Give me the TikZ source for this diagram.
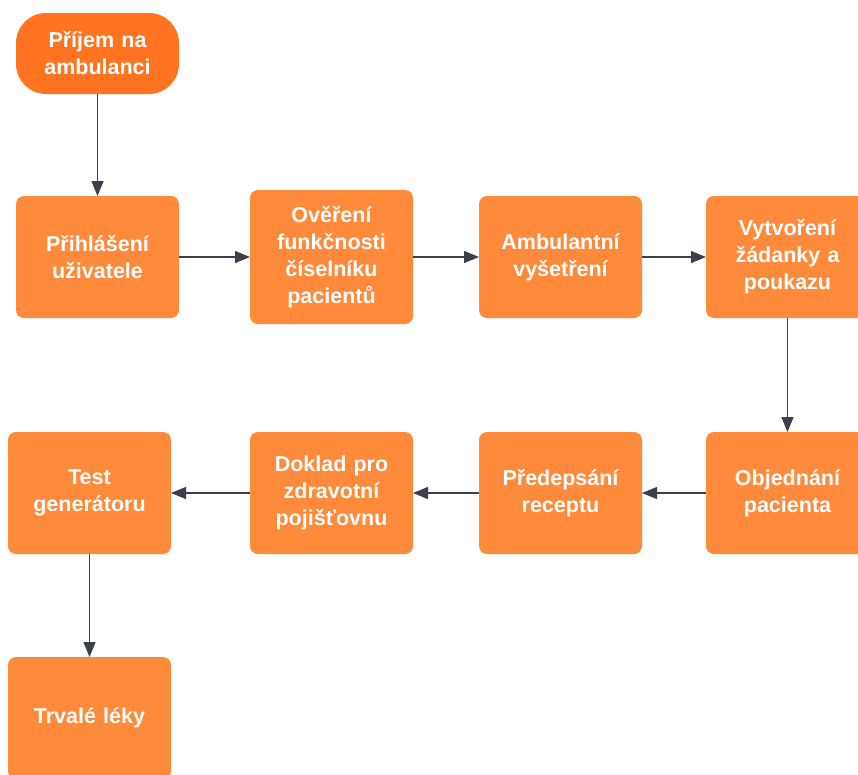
\documentclass[tikz,border=0pt]{standalone}
\usepackage{fontspec}
\setmainfont{Liberation Sans}
\usetikzlibrary{positioning}
\usetikzlibrary{arrows.meta}

\definecolor{oranzova}{HTML}{FF8A3B}
\definecolor{tmavaoranzova}{HTML}{FF7321}
\definecolor{cara}{HTML}{3A414A}

\begin{document}
\begin{tikzpicture}[x=1pt, y=1pt,
	every node/.style={inner sep=4, outer sep=0, font=\fontsize{21.5}{27}\selectfont\bfseries, text=white, align=center},
	krok/.style={fill=oranzova, rounded corners=8, minimum width=163, minimum height=122, text width=150},
	zacatek/.style={fill=tmavaoranzova, rounded corners=30, minimum width=163, minimum height=81, text width=150},
	sipka/.style={draw=cara, line width=1.2, -{Triangle[length=15, width=12]}}]
		
		\useasboundingbox (0,0) rectangle (858,-774);
		
		%Nodes
		\node[zacatek] (11) at (97.5,-53.5) {Příjem na\\ambulanci};
		\node[krok] (21) [below=102 of 11] {Přihlášení\\uživatele};
		\node[krok, minimum height=134] (22) [right=71 of 21] {Ověření\\funkčnosti\\číselníku\\pacientů};
		\node[krok] (23) [right=66 of 22] {Ambulantní\\vyšetření};
		\node[krok] (24) [right=64 of 23] {Vytvoření\\žádanky a\\poukazu};
		\node[krok] (34) [below=114 of 24] {Objednání\\pacienta};
		\node[krok] (33) [left=64 of 34] {Předepsání\\receptu};
		\node[krok] (32) [left=66 of 33] {Doklad pro\\zdravotní\\pojišťovnu};
		\node[krok] (31) [left=79 of 32] {Test\\generátoru};
		\node[krok] (41) [below=103 of 31] {Trvalé léky};
		
		%Lines
		\draw[sipka] (11) -- (21);
		\draw[sipka] (21) -- (22);
		\draw[sipka] (22) -- (23);
		\draw[sipka] (23) -- (24);
		\draw[sipka] (24) -- (34);
		\draw[sipka] (34) -- (33);
		\draw[sipka] (33) -- (32);
		\draw[sipka] (32) -- (31);
		\draw[sipka] (31) -- (41);
	\end{tikzpicture}
\end{document}
